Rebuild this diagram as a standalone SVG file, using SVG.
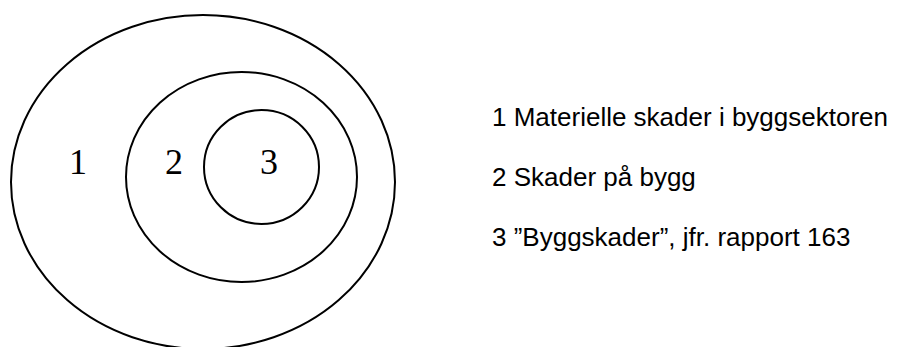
<svg xmlns="http://www.w3.org/2000/svg" width="901" height="347" viewBox="0 0 901 347">
<style>
.ring{fill:none;stroke:#000;stroke-width:2}
.num{font-family:"Liberation Serif","Times New Roman",serif;font-size:36px;fill:#000;text-anchor:middle}
.leg{font-family:"Liberation Sans",Arial,Helvetica,sans-serif;font-size:26px;fill:#000}
</style>
<rect width="901" height="347" fill="#fff"/>
<g id="area1">
<ellipse class="ring" cx="203" cy="182" rx="192" ry="167"/>
<text class="num" x="78" y="174">1</text>
</g>
<g id="area2">
<ellipse class="ring" cx="241.5" cy="177" rx="115.5" ry="105"/>
<text class="num" x="174" y="174">2</text>
</g>
<g id="area3">
<ellipse class="ring" cx="261.5" cy="167" rx="57.5" ry="57"/>
<text class="num" x="269" y="174">3</text>
</g>
<g id="connectors"></g>
<g id="legend">
<text class="leg" x="492" y="126">1 Materielle skader i byggsektoren</text>
<text class="leg" x="492" y="186">2 Skader på bygg</text>
<text class="leg" x="492" y="246">3 ”Byggskader”, jfr. rapport 163</text>
</g>
</svg>
